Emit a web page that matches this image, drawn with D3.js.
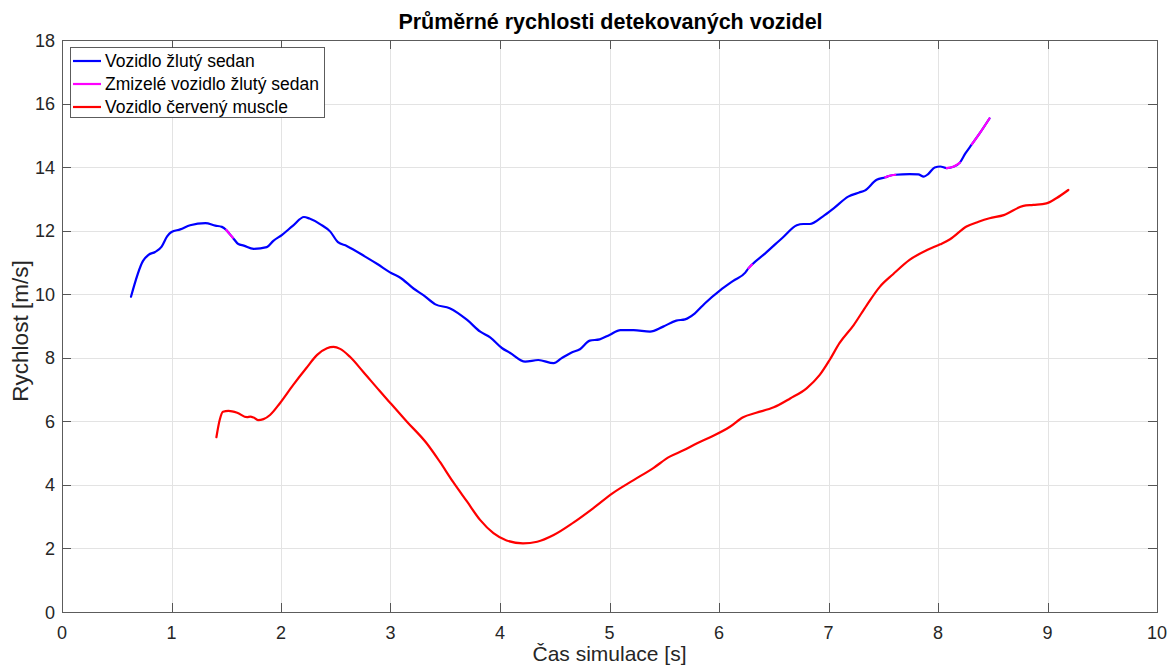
<!DOCTYPE html>
<html lang="cs">
<head>
<meta charset="utf-8">
<title>Průměrné rychlosti detekovaných vozidel</title>
<script src="https://cdn.jsdelivr.net/npm/d3@7"></script>
<style>
  html, body { margin: 0; padding: 0; background: #fff; }
  svg { display: block; font-family: "Liberation Sans", Arial, Helvetica, sans-serif; }
</style>
</head>
<body>
<svg id="chart" width="1171" height="668"></svg>
<script>
// Sedan track: time [s], speed [m/s], and a flag marking samples where the vehicle was lost
const sedanTime = [0.63, 0.74, 0.79, 0.85, 0.91, 0.96, 1.00, 1.08, 1.17, 1.31, 1.40, 1.46, 1.50, 1.53, 1.56,
  1.61, 1.66, 1.75, 1.87, 1.93, 2.01, 2.11, 2.21, 2.26, 2.36, 2.45, 2.52, 2.60, 2.78, 2.88, 3.01, 3.09, 3.21,
  3.30, 3.41, 3.54, 3.70, 3.82, 3.91, 4.02, 4.09, 4.23, 4.35, 4.49, 4.56, 4.65, 4.73, 4.82, 4.91, 5.00, 5.10,
  5.22, 5.37, 5.49, 5.61, 5.69, 5.78, 5.87, 6.01, 6.13, 6.24, 6.27, 6.30, 6.42, 6.59, 6.71, 6.77, 6.83, 6.95,
  7.05, 7.18, 7.28, 7.33, 7.44, 7.52, 7.56, 7.61, 7.74, 7.82, 7.87, 7.91, 7.97, 8.02, 8.08, 8.14, 8.20, 8.25,
  8.31, 8.38, 8.47];
const sedanSpeed = [9.92, 11.05, 11.24, 11.33, 11.50, 11.82, 11.96, 12.04, 12.17, 12.24, 12.16, 12.12, 12.02, 11.90, 11.78,
  11.58, 11.53, 11.43, 11.48, 11.68, 11.87, 12.16, 12.43, 12.38, 12.20, 11.97, 11.64, 11.52, 11.16, 10.95, 10.66, 10.52, 10.18,
  9.97, 9.68, 9.56, 9.19, 8.82, 8.64, 8.30, 8.16, 7.88, 7.93, 7.83, 7.98, 8.16, 8.27, 8.54, 8.58, 8.72, 8.87,
  8.87, 8.82, 8.98, 9.17, 9.21, 9.40, 9.71, 10.12, 10.42, 10.68, 10.82, 10.93, 11.28, 11.81, 12.17, 12.21, 12.21, 12.45,
  12.71, 13.07, 13.20, 13.26, 13.60, 13.68, 13.73, 13.76, 13.78, 13.77, 13.70, 13.78, 13.99, 14.02, 13.97, 14.01, 14.14, 14.43,
  14.72, 15.06, 15.53];
const sedanLost = [0, 0, 0, 0, 0, 0, 0, 0, 0, 0, 0, 0, 1, 1, 1,
  0, 0, 0, 0, 0, 0, 0, 0, 0, 0, 0, 0, 0, 0, 0, 0, 0, 0,
  0, 0, 0, 0, 0, 0, 0, 0, 0, 0, 0, 0, 0, 0, 0, 0, 0, 0,
  0, 0, 0, 0, 0, 0, 0, 0, 0, 0, 1, 1, 0, 0, 0, 0, 0, 0,
  0, 0, 0, 0, 0, 1, 1, 1, 0, 0, 0, 0, 0, 0, 1, 1, 1, 0,
  1, 1, 1];

// Muscle car track: time [s], speed [m/s]
const muscleTime = [1.41, 1.44, 1.47, 1.52, 1.60, 1.69, 1.72, 1.75, 1.79, 1.84, 1.90, 1.99, 2.11, 2.23, 2.33, 2.42,
  2.48, 2.54, 2.63, 2.75, 2.90, 3.00, 3.15, 3.33, 3.45, 3.57, 3.70, 3.82, 3.94, 4.06, 4.21, 4.34, 4.49, 4.67,
  4.85, 5.03, 5.22, 5.40, 5.55, 5.67, 5.80, 5.92, 6.10, 6.22, 6.34, 6.50, 6.65, 6.80, 6.92, 7.01, 7.10, 7.23,
  7.35, 7.47, 7.59, 7.74, 7.90, 8.02, 8.11, 8.26, 8.37, 8.47, 8.60, 8.78, 8.87, 8.99, 9.08, 9.19];
const muscleSpeed = [5.50, 6.04, 6.30, 6.33, 6.27, 6.13, 6.15, 6.12, 6.04, 6.07, 6.20, 6.57, 7.14, 7.67, 8.09, 8.30,
  8.34, 8.28, 8.03, 7.56, 6.96, 6.57, 5.99, 5.31, 4.73, 4.10, 3.47, 2.89, 2.48, 2.25, 2.16, 2.21, 2.42, 2.81,
  3.26, 3.74, 4.15, 4.53, 4.89, 5.08, 5.31, 5.50, 5.83, 6.13, 6.27, 6.44, 6.72, 7.04, 7.46, 7.93, 8.46, 9.03,
  9.66, 10.24, 10.63, 11.08, 11.39, 11.57, 11.73, 12.13, 12.28, 12.39, 12.49, 12.78, 12.81, 12.86, 13.02, 13.28];

const xTicks = [0, 1, 2, 3, 4, 5, 6, 7, 8, 9, 10];
const yTicks = [0, 2, 4, 6, 8, 10, 12, 14, 16, 18];

const legendLabels = ["Vozidlo žlutý sedan", "Zmizelé vozidlo žlutý sedan", "Vozidlo červený muscle"];
const seriesColors = ["#0000ff", "#ff00ff", "#ff0000"];

const titleText = "Průměrné rychlosti detekovaných vozidel";
const xLabelText = "Čas simulace [s]";
const yLabelText = "Rychlost [m/s]";

// ---- layout ----
const svg = d3.select("#chart");
const plot = { left: 62, right: 1157, top: 40, bottom: 612 };

const x = d3.scaleLinear().domain([0, 10]).range([plot.left, plot.right]);
const y = d3.scaleLinear().domain([0, 18]).range([plot.bottom, plot.top]);

const axisColor = "#262626";
const tickLen = 9;

// grid
const grid = svg.append("g").attr("stroke", "#e3e3e3").attr("stroke-width", 1);
grid.selectAll("line.gx").data(xTicks.slice(1, -1)).join("line")
  .attr("x1", d => Math.round(x(d)) + 0.5).attr("x2", d => Math.round(x(d)) + 0.5)
  .attr("y1", plot.top).attr("y2", plot.bottom);
grid.selectAll("line.gy").data(yTicks.slice(1, -1)).join("line")
  .attr("y1", d => Math.round(y(d)) + 0.5).attr("y2", d => Math.round(y(d)) + 0.5)
  .attr("x1", plot.left).attr("x2", plot.right);

// data lines
const sedan = sedanTime.map((t, i) => ({ t, v: sedanSpeed[i], lost: sedanLost[i] }));
const muscle = muscleTime.map((t, i) => ({ t, v: muscleSpeed[i] }));

const line = d3.line().x(d => x(d.t)).y(d => y(d.v)).curve(d3.curveMonotoneX);

const lines = svg.append("g").attr("fill", "none").attr("stroke-width", 2.2)
  .attr("stroke-linejoin", "round").attr("stroke-linecap", "round");

lines.append("path").datum(sedan).attr("stroke", seriesColors[0]).attr("d", line);

// runs of lost samples drawn over the sedan track
const lostRuns = [];
let run = [];
sedan.forEach(d => {
  if (d.lost) run.push(d);
  else { if (run.length > 1) lostRuns.push(run); run = []; }
});
if (run.length > 1) lostRuns.push(run);
lines.selectAll("path.lost").data(lostRuns).join("path")
  .attr("class", "lost").attr("stroke", seriesColors[1]).attr("d", line);

lines.append("path").datum(muscle).attr("stroke", seriesColors[2]).attr("d", line);

// axes box with inward ticks
const axes = svg.append("g").attr("stroke", axisColor).attr("stroke-width", 1).attr("opacity", 0.75);
axes.append("rect")
  .attr("x", plot.left + 0.5).attr("y", plot.top + 0.5)
  .attr("width", plot.right - plot.left).attr("height", plot.bottom - plot.top)
  .attr("fill", "none");
xTicks.forEach(t => {
  const px = Math.round(x(t)) + 0.5;
  axes.append("line").attr("x1", px).attr("x2", px).attr("y1", plot.bottom).attr("y2", plot.bottom - tickLen);
  axes.append("line").attr("x1", px).attr("x2", px).attr("y1", plot.top).attr("y2", plot.top + tickLen);
});
yTicks.forEach(t => {
  const py = Math.round(y(t)) + 0.5;
  axes.append("line").attr("y1", py).attr("y2", py).attr("x1", plot.left).attr("x2", plot.left + tickLen);
  axes.append("line").attr("y1", py).attr("y2", py).attr("x1", plot.right).attr("x2", plot.right - tickLen);
});

// tick labels
const labels = svg.append("g").attr("fill", axisColor).attr("font-size", 18);
labels.selectAll("text.xt").data(xTicks).join("text")
  .attr("x", d => x(d)).attr("y", plot.bottom + 27)
  .attr("text-anchor", "middle").text(d => d);
labels.selectAll("text.yt").data(yTicks).join("text")
  .attr("x", plot.left - 7).attr("y", d => y(d) + 6.5)
  .attr("text-anchor", "end").text(d => d);

// axis titles and chart title
svg.append("text").attr("x", (plot.left + plot.right) / 2).attr("y", 661)
  .attr("text-anchor", "middle").attr("font-size", 21).attr("fill", axisColor).text(xLabelText);
svg.append("text").attr("transform", "translate(28, 331) rotate(-90)")
  .attr("text-anchor", "middle").attr("font-size", 22.5).attr("fill", axisColor).text(yLabelText);
svg.append("text").attr("x", 610.5).attr("y", 29)
  .attr("text-anchor", "middle").attr("font-size", 21.5).attr("font-weight", "bold").attr("fill", "#000").text(titleText);

// legend
const legend = svg.append("g");
legend.append("rect").attr("x", 70.5).attr("y", 47.5).attr("width", 254).attr("height", 70)
  .attr("fill", "#fff").attr("stroke", axisColor).attr("stroke-opacity", 0.75);
legendLabels.forEach((lab, i) => {
  const ly = 61 + i * 23;
  legend.append("line").attr("x1", 73).attr("x2", 101).attr("y1", ly).attr("y2", ly)
    .attr("stroke", seriesColors[i]).attr("stroke-width", 2.2);
  legend.append("text").attr("x", 105).attr("y", ly + 6).attr("font-size", 17.5).attr("fill", "#000").text(lab);
});
</script>
</body>
</html>
